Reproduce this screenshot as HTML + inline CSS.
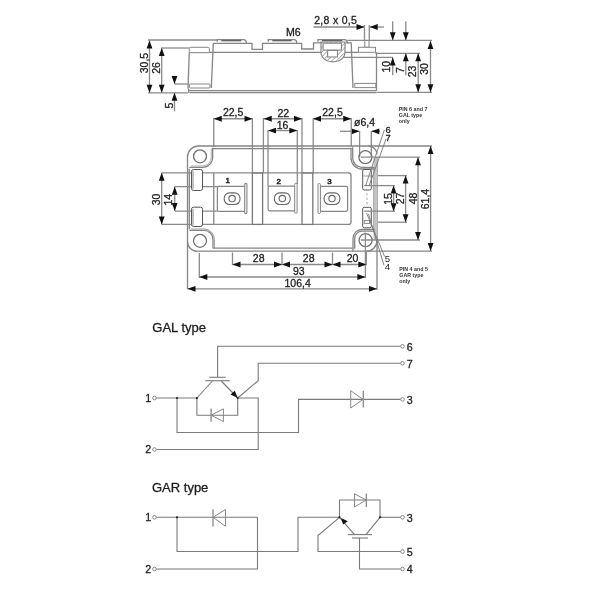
<!DOCTYPE html>
<html><head><meta charset="utf-8"><style>
html,body{margin:0;padding:0;background:#fff;}
body{width:600px;height:600px;overflow:hidden;}
svg{display:block;font-family:"Liberation Sans", sans-serif;filter:grayscale(1) blur(0.35px);}
text{stroke:#1e1e1e;stroke-width:0.3px;}
text.b{stroke-width:0.55px;}
</style></head><body>
<svg width="600" height="600" viewBox="0 0 600 600">
<rect width="600" height="600" fill="#fff"/>
<text x="293.3" y="35.8" font-size="10.6" text-anchor="middle" font-weight="normal" fill="#1e1e1e">M6</text>
<text x="314.2" y="24" font-size="10.5" text-anchor="start" font-weight="normal" fill="#1e1e1e" letter-spacing="0.3">2,8 x 0,5</text>
<line x1="313.5" y1="27" x2="364.5" y2="27" stroke="#8a8a8a" stroke-width="1.3" />
<polygon points="364.50,27.00 356.50,24.10 356.50,29.90" fill="#111"/>
<line x1="369.7" y1="27" x2="384" y2="27" stroke="#8a8a8a" stroke-width="1.3" />
<polygon points="369.70,27.00 377.70,24.10 377.70,29.90" fill="#111"/>
<line x1="364.5" y1="25" x2="364.5" y2="40.5" stroke="#8a8a8a" stroke-width="1.3" />
<line x1="369.3" y1="25" x2="369.3" y2="40.5" stroke="#8a8a8a" stroke-width="1.3" />
<line x1="148" y1="40" x2="217.5" y2="40" stroke="#8a8a8a" stroke-width="1.3" />
<path d="M217.3,41.8 L217.3,39.6 L243.3,39.6 Q246.3,39.6 246.3,42.5 L246.3,43.3" stroke="#858585" stroke-width="1.3" fill="none" />
<line x1="221.3" y1="40.7" x2="241.3" y2="40.7" stroke="#555" stroke-width="1.2" />
<path d="M268.3,41.8 L268.3,39.6 L293.7,39.6 Q296.7,39.6 296.7,42.5 L296.7,43.3" stroke="#858585" stroke-width="1.3" fill="none" />
<line x1="272.3" y1="40.7" x2="291.7" y2="40.7" stroke="#555" stroke-width="1.2" />
<path d="M318.0,41.8 L318.0,39.6 L344.3,39.6 Q347.3,39.6 347.3,42.5 L347.3,43.3" stroke="#858585" stroke-width="1.3" fill="none" />
<line x1="322.0" y1="40.7" x2="342.3" y2="40.7" stroke="#555" stroke-width="1.2" />
<polyline points="213.3,43.3 252,43.3 252,49.3 262.5,49.3 262.5,43.3 301.7,43.3 301.7,49.0 313.5,49.0 313.5,42.8 321,42.8" stroke="#858585" stroke-width="1.3" fill="none"/>
<polyline points="345.6,42.8 351.2,42.8 353.0,88.0" stroke="#858585" stroke-width="1.3" fill="none"/>
<line x1="189.3" y1="52.4" x2="358.4" y2="52.4" stroke="#858585" stroke-width="1.3" />
<defs><pattern id="h" width="3.3" height="3.3" patternUnits="userSpaceOnUse" patternTransform="rotate(45)"><rect width="3.3" height="3.3" fill="#fff"/><line x1="0" y1="0" x2="0" y2="3.3" stroke="#777" stroke-width="1.1"/></pattern></defs>
<path d="M321,42 L345,42 L345,52 C345,58 340,61.8 333,61.8 C326,61.8 321,58 321,52 Z" stroke="#858585" stroke-width="1.2" fill="url(#h)" />
<rect x="323.1" y="43.2" width="18.3" height="6.9" rx="0" stroke="#858585" stroke-width="1.1" fill="#fff"/>
<rect x="327.6" y="50.4" width="9.9" height="6.6" rx="0" stroke="#858585" stroke-width="1.1" fill="#fff"/>
<line x1="347.3" y1="40.3" x2="432" y2="40.3" stroke="#8a8a8a" stroke-width="1.3" />
<rect x="364.8" y="40.5" width="4.2" height="6.8" rx="0" stroke="#858585" stroke-width="1" fill="#fff"/>
<rect x="358.4" y="47.3" width="17.1" height="5.0" rx="0" stroke="#858585" stroke-width="1" fill="#fff"/>
<line x1="375.5" y1="53.3" x2="420" y2="53.3" stroke="#8a8a8a" stroke-width="1.3" />
<line x1="343.8" y1="57.4" x2="393" y2="57.4" stroke="#8a8a8a" stroke-width="1.3" />
<line x1="376.5" y1="52.3" x2="376.5" y2="90.7" stroke="#858585" stroke-width="1.3" />
<rect x="354.8" y="83.4" width="21.0" height="4.2" rx="0" stroke="#858585" stroke-width="1" fill="none"/>
<line x1="189.3" y1="52.0" x2="188.0" y2="88.7" stroke="#858585" stroke-width="1.3" />
<line x1="213.3" y1="43.3" x2="211.3" y2="88.0" stroke="#858585" stroke-width="1.3" />
<rect x="189.3" y="47.3" width="20.0" height="5.4" rx="1" stroke="#858585" stroke-width="1" fill="#fff"/>
<rect x="189.3" y="84.0" width="20.7" height="4.0" rx="1" stroke="#858585" stroke-width="1" fill="#fff"/>
<line x1="188.0" y1="90.7" x2="376.5" y2="90.7" stroke="#858585" stroke-width="1.3" />
<line x1="189.5" y1="92.7" x2="376.5" y2="92.7" stroke="#858585" stroke-width="1.3" />
<line x1="188.7" y1="88.7" x2="188.7" y2="92.7" stroke="#858585" stroke-width="1.3" />
<line x1="161" y1="48" x2="189" y2="48" stroke="#8a8a8a" stroke-width="1.3" />
<line x1="174.5" y1="84" x2="188" y2="84" stroke="#8a8a8a" stroke-width="1.3" />
<line x1="148" y1="92.8" x2="188" y2="92.8" stroke="#8a8a8a" stroke-width="1.3" />
<line x1="376.5" y1="92.3" x2="432" y2="92.3" stroke="#8a8a8a" stroke-width="1.3" />
<line x1="149.5" y1="40.5" x2="149.5" y2="92.8" stroke="#8a8a8a" stroke-width="1.3" />
<polygon points="149.50,40.50 146.60,48.50 152.40,48.50" fill="#111"/>
<polygon points="149.50,92.80 146.60,84.80 152.40,84.80" fill="#111"/>
<line x1="161.7" y1="48" x2="161.7" y2="92.8" stroke="#8a8a8a" stroke-width="1.3" />
<polygon points="161.70,48.00 158.80,56.00 164.60,56.00" fill="#111"/>
<polygon points="161.70,92.80 158.80,84.80 164.60,84.80" fill="#111"/>
<line x1="174.5" y1="76" x2="174.5" y2="84" stroke="#8a8a8a" stroke-width="1.3" />
<polygon points="174.50,84.00 171.60,76.00 177.40,76.00" fill="#111"/>
<line x1="174.5" y1="92.8" x2="174.5" y2="111.3" stroke="#8a8a8a" stroke-width="1.3" />
<polygon points="174.50,92.80 171.60,100.80 177.40,100.80" fill="#111"/>
<text x="147.6" y="63" font-size="10.5" text-anchor="middle" font-weight="normal" fill="#1e1e1e" transform="rotate(-90 147.6 63)">30,5</text>
<text x="159.8" y="68" font-size="10.5" text-anchor="middle" font-weight="normal" fill="#1e1e1e" transform="rotate(-90 159.8 68)">26</text>
<text x="173" y="105.5" font-size="10.5" text-anchor="middle" font-weight="normal" fill="#1e1e1e" transform="rotate(-90 173 105.5)">5</text>
<line x1="392.7" y1="21.3" x2="392.7" y2="40" stroke="#8a8a8a" stroke-width="1.3" />
<polygon points="392.70,40.30 389.80,32.30 395.60,32.30" fill="#111"/>
<line x1="392.7" y1="57.4" x2="392.7" y2="75.3" stroke="#8a8a8a" stroke-width="1.3" />
<polygon points="392.70,57.40 389.80,65.40 395.60,65.40" fill="#111"/>
<line x1="405.8" y1="21.3" x2="405.8" y2="40" stroke="#8a8a8a" stroke-width="1.3" />
<polygon points="405.80,40.30 402.90,32.30 408.70,32.30" fill="#111"/>
<line x1="405.8" y1="53.3" x2="405.8" y2="75.3" stroke="#8a8a8a" stroke-width="1.3" />
<polygon points="405.80,53.30 402.90,61.30 408.70,61.30" fill="#111"/>
<line x1="418.2" y1="53.3" x2="418.2" y2="92.3" stroke="#8a8a8a" stroke-width="1.3" />
<polygon points="418.20,53.30 415.30,61.30 421.10,61.30" fill="#111"/>
<polygon points="418.20,92.30 415.30,84.30 421.10,84.30" fill="#111"/>
<line x1="430.5" y1="41.0" x2="430.5" y2="92.3" stroke="#8a8a8a" stroke-width="1.3" />
<polygon points="430.50,41.00 427.60,49.00 433.40,49.00" fill="#111"/>
<polygon points="430.50,92.30 427.60,84.30 433.40,84.30" fill="#111"/>
<text x="390.2" y="66.7" font-size="10.5" text-anchor="middle" font-weight="normal" fill="#1e1e1e" transform="rotate(-90 390.2 66.7)">10</text>
<text x="403.5" y="70" font-size="10.5" text-anchor="middle" font-weight="normal" fill="#1e1e1e" transform="rotate(-90 403.5 70)">7</text>
<text x="416" y="71.5" font-size="10.5" text-anchor="middle" font-weight="normal" fill="#1e1e1e" transform="rotate(-90 416 71.5)">23</text>
<text x="428.2" y="69" font-size="10.5" text-anchor="middle" font-weight="normal" fill="#1e1e1e" transform="rotate(-90 428.2 69)">30</text>
<line x1="213.75" y1="118.75" x2="252.5" y2="118.75" stroke="#8a8a8a" stroke-width="1.3" />
<polygon points="213.75,118.75 221.75,115.85 221.75,121.65" fill="#111"/>
<polygon points="252.50,118.75 244.50,115.85 244.50,121.65" fill="#111"/>
<text x="233.1" y="116" font-size="10.5" text-anchor="middle" font-weight="normal" fill="#1e1e1e">22,5</text>
<line x1="263.75" y1="118.75" x2="302.0" y2="118.75" stroke="#8a8a8a" stroke-width="1.3" />
<polygon points="263.75,118.75 271.75,115.85 271.75,121.65" fill="#111"/>
<polygon points="302.00,118.75 294.00,115.85 294.00,121.65" fill="#111"/>
<text x="283.3" y="116.8" font-size="10.5" text-anchor="middle" font-weight="normal" fill="#1e1e1e">22</text>
<line x1="268.0" y1="130.6" x2="297.3" y2="130.6" stroke="#8a8a8a" stroke-width="1.3" />
<polygon points="268.00,130.60 276.00,127.70 276.00,133.50" fill="#111"/>
<polygon points="297.30,130.60 289.30,127.70 289.30,133.50" fill="#111"/>
<text x="282.6" y="128.9" font-size="10.5" text-anchor="middle" font-weight="normal" fill="#1e1e1e">16</text>
<line x1="313.0" y1="118.75" x2="351.25" y2="118.75" stroke="#8a8a8a" stroke-width="1.3" />
<polygon points="313.00,118.75 321.00,115.85 321.00,121.65" fill="#111"/>
<polygon points="351.25,118.75 343.25,115.85 343.25,121.65" fill="#111"/>
<text x="332.5" y="116" font-size="10.5" text-anchor="middle" font-weight="normal" fill="#1e1e1e">22,5</text>
<text x="364.5" y="126.3" font-size="10.5" text-anchor="middle" font-weight="normal" fill="#1e1e1e">ø6,4</text>
<line x1="340" y1="131.3" x2="359.6" y2="131.3" stroke="#8a8a8a" stroke-width="1.3" />
<polygon points="359.60,131.30 351.60,128.40 351.60,134.20" fill="#111"/>
<line x1="371.3" y1="131.3" x2="380" y2="131.3" stroke="#8a8a8a" stroke-width="1.3" />
<polygon points="371.30,131.30 379.30,128.40 379.30,134.20" fill="#111"/>
<line x1="213.75" y1="118" x2="213.75" y2="147" stroke="#8a8a8a" stroke-width="1.3" />
<line x1="252.4" y1="118" x2="252.4" y2="173" stroke="#8a8a8a" stroke-width="1.3" />
<line x1="263.4" y1="118" x2="263.4" y2="173" stroke="#8a8a8a" stroke-width="1.3" />
<line x1="268.0" y1="130" x2="268.0" y2="186.4" stroke="#8a8a8a" stroke-width="1.3" />
<line x1="297.3" y1="130" x2="297.3" y2="184" stroke="#8a8a8a" stroke-width="1.3" />
<line x1="302.0" y1="118" x2="302.0" y2="173" stroke="#8a8a8a" stroke-width="1.3" />
<line x1="313.2" y1="118" x2="313.2" y2="173" stroke="#8a8a8a" stroke-width="1.3" />
<line x1="351.25" y1="118" x2="351.25" y2="147" stroke="#8a8a8a" stroke-width="1.3" />
<line x1="359.6" y1="131" x2="359.6" y2="157" stroke="#8a8a8a" stroke-width="1.3" />
<line x1="371.3" y1="131" x2="371.3" y2="157" stroke="#8a8a8a" stroke-width="1.3" />
<path d="M187.5,289 L187.5,157 A11,11 0 0 1 198.5,146 L432,146" stroke="#858585" stroke-width="1.3" fill="none" />
<line x1="197.5" y1="251.2" x2="432" y2="251.2" stroke="#858585" stroke-width="1.3" />
<path d="M187.5,241.5 A10,10 0 0 0 197.5,251.5" stroke="#858585" stroke-width="1.3" fill="none" />
<line x1="377.0" y1="157" x2="377.0" y2="290" stroke="#858585" stroke-width="1.3" />
<rect x="373.6" y="158" width="3.4" height="82" rx="0" stroke="none" stroke-width="0" fill="#c4c4c4"/>
<line x1="373.6" y1="168" x2="373.6" y2="229" stroke="#999" stroke-width="0.8" />
<path d="M368.5,146 A8.5,8.5 0 0 1 377,154.5" stroke="#858585" stroke-width="1.3" fill="none" />
<path d="M377,240.5 A10.5,10.5 0 0 1 366.5,251.2" stroke="#858585" stroke-width="1.3" fill="none" />
<line x1="212.7" y1="148.7" x2="352.7" y2="148.7" stroke="#858585" stroke-width="1.3" />
<line x1="212.7" y1="248.2" x2="352.7" y2="248.2" stroke="#858585" stroke-width="1.3" />
<line x1="189.3" y1="168.7" x2="189.3" y2="229.2" stroke="#858585" stroke-width="1.3" />
<path d="M189.3,167.4 L202.5,167.4 A10.2,10.2 0 0 0 212.7,157.2 L212.7,147.8" stroke="#858585" stroke-width="1.3" fill="none" />
<path d="M191,166.0 L202.5,166.0 A8.8,8.8 0 0 0 211.3,157.2 L211.3,148.5" stroke="#aaa" stroke-width="1.0" fill="none" />
<path d="M189.3,230.4 L204,230.4 A9,9 0 0 1 213,239.4 L213,248.2" stroke="#858585" stroke-width="1.3" fill="none" />
<path d="M191,229.0 L204,229.0 A10.4,10.4 0 0 1 214.4,239.4 L214.4,248.2" stroke="#999" stroke-width="1.0" fill="none" />
<path d="M352.7,147.3 L352.7,158 A9.3,9.3 0 0 0 362,167.3 L374.6,167.3" stroke="#858585" stroke-width="1.3" fill="none" />
<path d="M351,149.2 L351,158 A11,11 0 0 0 362,169 L374.6,169" stroke="#858585" stroke-width="1.3" fill="none" />
<path d="M374.6,229.5 L362,229.5 A9,9 0 0 0 353,238.5 L353,251.2" stroke="#858585" stroke-width="1.3" fill="none" />
<path d="M374.6,231.2 L362,231.2 A7.3,7.3 0 0 0 354.7,238.5 L354.7,248.8" stroke="#858585" stroke-width="1.3" fill="none" />
<circle cx="200.0" cy="156.3" r="6.5" stroke="#707070" stroke-width="1.3" fill="none"/>
<circle cx="365.4" cy="157.2" r="6.5" stroke="#707070" stroke-width="1.3" fill="none"/>
<circle cx="200.0" cy="240.8" r="6.5" stroke="#707070" stroke-width="1.3" fill="none"/>
<circle cx="365.6" cy="240.2" r="6.5" stroke="#707070" stroke-width="1.3" fill="none"/>
<line x1="161.7" y1="172.8" x2="349" y2="172.8" stroke="#8a8a8a" stroke-width="1.3" />
<line x1="161.7" y1="224.4" x2="349" y2="224.4" stroke="#8a8a8a" stroke-width="1.3" />
<path d="M348.5,172.8 Q351,172.8 351,175.3 L351,221.9 Q351,224.4 348.5,224.4" stroke="#858585" stroke-width="1.3" fill="none" />
<line x1="213.75" y1="173" x2="213.75" y2="224.3" stroke="#858585" stroke-width="1.3" />
<line x1="174.7" y1="186.7" x2="217.3" y2="186.7" stroke="#8a8a8a" stroke-width="1.3" />
<line x1="174.7" y1="211.1" x2="217.3" y2="211.1" stroke="#8a8a8a" stroke-width="1.3" />
<line x1="161.7" y1="172.8" x2="161.7" y2="224.4" stroke="#8a8a8a" stroke-width="1.3" />
<polygon points="161.70,172.80 158.80,180.80 164.60,180.80" fill="#111"/>
<polygon points="161.70,224.40 158.80,216.40 164.60,216.40" fill="#111"/>
<line x1="174.7" y1="186.7" x2="174.7" y2="211.1" stroke="#8a8a8a" stroke-width="1.3" />
<polygon points="174.70,186.70 171.80,194.70 177.60,194.70" fill="#111"/>
<polygon points="174.70,211.10 171.80,203.10 177.60,203.10" fill="#111"/>
<text x="160.2" y="199.4" font-size="10.5" text-anchor="middle" font-weight="normal" fill="#1e1e1e" transform="rotate(-90 160.2 199.4)">30</text>
<text x="172.2" y="199.7" font-size="10.5" text-anchor="middle" font-weight="normal" fill="#1e1e1e" transform="rotate(-90 172.2 199.7)">14</text>
<rect x="191.5" y="169.5" width="11" height="21" rx="2" stroke="#555" stroke-width="1" fill="#fff"/>
<rect x="191.5" y="207.2" width="11" height="19.3" rx="2" stroke="#555" stroke-width="1" fill="#fff"/>
<line x1="193" y1="171" x2="193" y2="189" stroke="#888" stroke-width="1" />
<line x1="193" y1="209" x2="193" y2="225" stroke="#888" stroke-width="1" />
<rect x="362.7" y="169.5" width="8.6" height="20.5" rx="1.5" stroke="#555" stroke-width="1" fill="#fff"/>
<rect x="362.7" y="207.3" width="8.6" height="20.5" rx="1.5" stroke="#555" stroke-width="1" fill="#fff"/>
<rect x="252.4" y="173.1" width="10.2" height="51.3" rx="0" stroke="#777" stroke-width="1.3" fill="#fff"/>
<rect x="302.0" y="173.1" width="10.8" height="51.3" rx="0" stroke="#777" stroke-width="1.3" fill="#fff"/>
<rect x="217.4" y="186.4" width="28.3" height="25.0" rx="1.5" stroke="#858585" stroke-width="1.2" fill="#fff"/>
<rect x="244.7" y="183.4" width="2.2" height="30.2" rx="1" stroke="#858585" stroke-width="1.1" fill="#fff"/>
<rect x="268.1" y="186.2" width="27.2" height="24.6" rx="1.5" stroke="#858585" stroke-width="1.2" fill="#fff"/>
<rect x="294.7" y="183.3" width="2.4" height="30" rx="1" stroke="#858585" stroke-width="1" fill="#fff"/>
<rect x="320.0" y="186.3" width="27.6" height="25.0" rx="1.5" stroke="#858585" stroke-width="1.2" fill="#fff"/>
<rect x="318.0" y="183.5" width="2.4" height="30" rx="1" stroke="#858585" stroke-width="1" fill="#fff"/>
<rect x="224.2" y="192.85" width="15.8" height="11.7" rx="5.3" stroke="#666" stroke-width="1.1" fill="none"/>
<circle cx="232.1" cy="198.6" r="3.2" stroke="#666" stroke-width="1.1" fill="none"/>
<rect x="274.40000000000003" y="192.85" width="15.8" height="11.7" rx="5.3" stroke="#666" stroke-width="1.1" fill="none"/>
<circle cx="282.3" cy="198.6" r="3.2" stroke="#666" stroke-width="1.1" fill="none"/>
<rect x="324.1" y="192.85" width="15.8" height="11.7" rx="5.3" stroke="#666" stroke-width="1.1" fill="none"/>
<circle cx="332.0" cy="198.6" r="3.2" stroke="#666" stroke-width="1.1" fill="none"/>
<text class="b" x="227.8" y="183.4" font-size="8.0" text-anchor="middle" font-weight="normal" fill="#333">1</text>
<text class="b" x="278.8" y="183.6" font-size="8.0" text-anchor="middle" font-weight="normal" fill="#333">2</text>
<text class="b" x="329.5" y="183.6" font-size="8.0" text-anchor="middle" font-weight="normal" fill="#333">3</text>
<line x1="360.8" y1="157.2" x2="420" y2="157.2" stroke="#8a8a8a" stroke-width="1.3" />
<line x1="378" y1="175.6" x2="407" y2="175.6" stroke="#8a8a8a" stroke-width="1.3" />
<line x1="364.3" y1="185.6" x2="395" y2="185.6" stroke="#8a8a8a" stroke-width="1.3" />
<line x1="364.3" y1="211.2" x2="395" y2="211.2" stroke="#8a8a8a" stroke-width="1.3" />
<line x1="363.5" y1="176" x2="371" y2="176" stroke="#999" stroke-width="1" />
<rect x="364.3" y="220.6" width="5.2" height="2.8" rx="0" stroke="#888" stroke-width="1" fill="none"/>
<line x1="367" y1="193" x2="367" y2="206.5" stroke="#aaa" stroke-width="1" stroke-dasharray="2.5 2"/>
<line x1="378" y1="222.2" x2="407" y2="222.2" stroke="#8a8a8a" stroke-width="1.3" />
<line x1="360.8" y1="240.0" x2="420" y2="240.0" stroke="#8a8a8a" stroke-width="1.3" />
<line x1="430.6" y1="146" x2="430.6" y2="251" stroke="#8a8a8a" stroke-width="1.3" />
<polygon points="430.60,146.00 427.70,154.00 433.50,154.00" fill="#111"/>
<polygon points="430.60,251.00 427.70,243.00 433.50,243.00" fill="#111"/>
<line x1="418.0" y1="157.2" x2="418.0" y2="240.0" stroke="#8a8a8a" stroke-width="1.3" />
<polygon points="418.00,157.20 415.10,165.20 420.90,165.20" fill="#111"/>
<polygon points="418.00,240.00 415.10,232.00 420.90,232.00" fill="#111"/>
<line x1="405.6" y1="175.6" x2="405.6" y2="222.2" stroke="#8a8a8a" stroke-width="1.3" />
<polygon points="405.60,175.60 402.70,183.60 408.50,183.60" fill="#111"/>
<polygon points="405.60,222.20 402.70,214.20 408.50,214.20" fill="#111"/>
<line x1="393.6" y1="185.6" x2="393.6" y2="211.2" stroke="#8a8a8a" stroke-width="1.3" />
<polygon points="393.60,185.60 390.70,193.60 396.50,193.60" fill="#111"/>
<polygon points="393.60,211.20 390.70,203.20 396.50,203.20" fill="#111"/>
<text x="429.3" y="199" font-size="10.5" text-anchor="middle" font-weight="normal" fill="#1e1e1e" transform="rotate(-90 429.3 199)">61,4</text>
<text x="417.2" y="198.5" font-size="10.5" text-anchor="middle" font-weight="normal" fill="#1e1e1e" transform="rotate(-90 417.2 198.5)">48</text>
<text x="404.2" y="198.5" font-size="10.5" text-anchor="middle" font-weight="normal" fill="#1e1e1e" transform="rotate(-90 404.2 198.5)">27</text>
<text x="392.2" y="199" font-size="10.5" text-anchor="middle" font-weight="normal" fill="#1e1e1e" transform="rotate(-90 392.2 199)">15</text>
<line x1="384.3" y1="130" x2="365.5" y2="186" stroke="#777" stroke-width="0.9" />
<line x1="386.0" y1="139.0" x2="369.0" y2="186" stroke="#777" stroke-width="0.9" />
<line x1="366.5" y1="213" x2="384.6" y2="256.5" stroke="#777" stroke-width="0.9" />
<line x1="368.5" y1="214" x2="384.0" y2="265.3" stroke="#777" stroke-width="0.9" />
<text x="388.1" y="132.5" font-size="9.3" text-anchor="middle" font-weight="normal" fill="#1e1e1e">6</text>
<text x="388.2" y="140.8" font-size="9.3" text-anchor="middle" font-weight="normal" fill="#1e1e1e">7</text>
<text x="387.5" y="261.8" font-size="9.6" text-anchor="middle" font-weight="normal" fill="#1e1e1e" style="stroke:none">5</text>
<text x="387.4" y="270.3" font-size="9.6" text-anchor="middle" font-weight="normal" fill="#1e1e1e" style="stroke:none">4</text>
<text x="398.8" y="110.7" font-size="5.3" text-anchor="start" font-weight="bold" fill="#333" style="stroke:none">PIN 6 and 7</text>
<text x="398.8" y="117.0" font-size="5.3" text-anchor="start" font-weight="bold" fill="#333" style="stroke:none">GAL type</text>
<text x="398.8" y="123.2" font-size="5.3" text-anchor="start" font-weight="bold" fill="#333" style="stroke:none">only</text>
<text x="399.3" y="271.0" font-size="5.3" text-anchor="start" font-weight="bold" fill="#333" style="stroke:none">PIN 4 and 5</text>
<text x="399.3" y="277.2" font-size="5.3" text-anchor="start" font-weight="bold" fill="#333" style="stroke:none">GAR type</text>
<text x="399.3" y="283.4" font-size="5.3" text-anchor="start" font-weight="bold" fill="#333" style="stroke:none">only</text>
<line x1="232.5" y1="252.5" x2="232.5" y2="265" stroke="#8a8a8a" stroke-width="1.3" />
<line x1="282.0" y1="252.5" x2="282.0" y2="265" stroke="#8a8a8a" stroke-width="1.3" />
<line x1="332.5" y1="252.5" x2="332.5" y2="265" stroke="#8a8a8a" stroke-width="1.3" />
<line x1="366.3" y1="251.5" x2="366.3" y2="265" stroke="#8a8a8a" stroke-width="1.3" />
<line x1="199.3" y1="253" x2="199.3" y2="278" stroke="#8a8a8a" stroke-width="1.3" />
<line x1="365.4" y1="232.5" x2="365.4" y2="278" stroke="#8a8a8a" stroke-width="1.3" />
<line x1="232.5" y1="264.5" x2="282.0" y2="264.5" stroke="#8a8a8a" stroke-width="1.3" />
<polygon points="232.50,264.50 240.50,261.60 240.50,267.40" fill="#111"/>
<polygon points="282.00,264.50 274.00,261.60 274.00,267.40" fill="#111"/>
<text x="258.7" y="262.3" font-size="10.5" text-anchor="middle" font-weight="normal" fill="#1e1e1e">28</text>
<line x1="282.0" y1="264.5" x2="332.5" y2="264.5" stroke="#8a8a8a" stroke-width="1.3" />
<polygon points="282.00,264.50 290.00,261.60 290.00,267.40" fill="#111"/>
<polygon points="332.50,264.50 324.50,261.60 324.50,267.40" fill="#111"/>
<text x="308.7" y="262.3" font-size="10.5" text-anchor="middle" font-weight="normal" fill="#1e1e1e">28</text>
<line x1="332.5" y1="264.5" x2="366.3" y2="264.5" stroke="#8a8a8a" stroke-width="1.3" />
<polygon points="332.50,264.50 340.50,261.60 340.50,267.40" fill="#111"/>
<polygon points="366.30,264.50 358.30,261.60 358.30,267.40" fill="#111"/>
<text x="352.5" y="262.3" font-size="10.5" text-anchor="middle" font-weight="normal" fill="#1e1e1e">20</text>
<line x1="199.3" y1="277.0" x2="365.4" y2="277.0" stroke="#8a8a8a" stroke-width="1.3" />
<polygon points="199.30,277.00 207.30,274.10 207.30,279.90" fill="#111"/>
<polygon points="365.40,277.00 357.40,274.10 357.40,279.90" fill="#111"/>
<text x="298.8" y="274.8" font-size="10.5" text-anchor="middle" font-weight="normal" fill="#1e1e1e">93</text>
<line x1="187.5" y1="288.8" x2="377.0" y2="288.8" stroke="#8a8a8a" stroke-width="1.3" />
<polygon points="187.50,288.80 195.50,285.90 195.50,291.70" fill="#111"/>
<polygon points="377.00,288.80 369.00,285.90 369.00,291.70" fill="#111"/>
<text x="297.6" y="286.5" font-size="10.5" text-anchor="middle" font-weight="normal" fill="#1e1e1e">106,4</text>
<text x="152.3" y="331.6" font-size="13" text-anchor="start" font-weight="normal" fill="#1e1e1e">GAL type</text>
<polyline points="217.6,377.3 217.6,346.3 400.6,346.3" stroke="#7a7a7a" stroke-width="1.1" fill="none"/>
<line x1="209.3" y1="377.3" x2="225.7" y2="377.3" stroke="#7a7a7a" stroke-width="1.1" />
<line x1="205.3" y1="380.7" x2="229.7" y2="380.7" stroke="#7a7a7a" stroke-width="1.1" />
<line x1="212.4" y1="381" x2="196.9" y2="398" stroke="#7a7a7a" stroke-width="1.1" />
<line x1="221.3" y1="381" x2="237.7" y2="398" stroke="#7a7a7a" stroke-width="1.1" />
<polygon points="237.7,397.9 230.6,394.4 234.8,390.7" fill="#111"/>
<polyline points="237.7,398 258.2,380.7 258.2,363.3 400.6,363.3" stroke="#7a7a7a" stroke-width="1.1" fill="none"/>
<line x1="156.3" y1="398" x2="196.9" y2="398" stroke="#7a7a7a" stroke-width="1.1" />
<polyline points="196.9,398 196.9,415.2 237.7,415.2 237.7,398" stroke="#7a7a7a" stroke-width="1.1" fill="none"/>
<polygon points="211.1,415.2 223.4,408.8 223.4,421.6" fill="none" stroke="#888" stroke-width="1"/>
<line x1="211.1" y1="408.5" x2="211.1" y2="421.8" stroke="#888" stroke-width="1.3" />
<polyline points="237.7,398 258.2,398 258.2,449.5 156.3,449.5" stroke="#7a7a7a" stroke-width="1.1" fill="none"/>
<polyline points="177,398 177,432.5 298.5,432.5 298.5,399.4 400.6,399.4" stroke="#7a7a7a" stroke-width="1.1" fill="none"/>
<polygon points="350.7,390.7 350.7,408.0 363.0,399.4" fill="none" stroke="#888" stroke-width="1"/>
<line x1="363.3" y1="390.7" x2="363.3" y2="407.5" stroke="#888" stroke-width="1.3" />
<circle cx="177" cy="398" r="1.1" stroke="none" stroke-width="0" fill="#222"/>
<circle cx="196.9" cy="398" r="1.1" stroke="none" stroke-width="0" fill="#222"/>
<circle cx="237.7" cy="398" r="1.1" stroke="none" stroke-width="0" fill="#222"/>
<circle cx="154.5" cy="398" r="1.8" stroke="#7a7a7a" stroke-width="0.9" fill="#fff"/>
<text x="151.3" y="401.5" font-size="10.7" text-anchor="end" font-weight="normal" fill="#1e1e1e">1</text>
<circle cx="154.5" cy="449.5" r="1.8" stroke="#7a7a7a" stroke-width="0.9" fill="#fff"/>
<text x="151.3" y="453.0" font-size="10.7" text-anchor="end" font-weight="normal" fill="#1e1e1e">2</text>
<circle cx="402.5" cy="346.3" r="1.8" stroke="#7a7a7a" stroke-width="0.9" fill="#fff"/>
<text x="406.8" y="350.5" font-size="10.7" text-anchor="start" font-weight="normal" fill="#1e1e1e">6</text>
<circle cx="402.5" cy="363.3" r="1.8" stroke="#7a7a7a" stroke-width="0.9" fill="#fff"/>
<text x="406.8" y="367.5" font-size="10.7" text-anchor="start" font-weight="normal" fill="#1e1e1e">7</text>
<circle cx="402.5" cy="399.4" r="1.8" stroke="#7a7a7a" stroke-width="0.9" fill="#fff"/>
<text x="406.8" y="403.59999999999997" font-size="10.7" text-anchor="start" font-weight="normal" fill="#1e1e1e">3</text>
<text x="152.0" y="492.2" font-size="13" text-anchor="start" font-weight="normal" fill="#1e1e1e">GAR type</text>
<line x1="156.3" y1="517.3" x2="257.5" y2="517.3" stroke="#7a7a7a" stroke-width="1.1" />
<polygon points="213.0,517.3 225.5,509.5 225.5,526.3" fill="none" stroke="#888" stroke-width="1"/>
<line x1="213.0" y1="509.3" x2="213.0" y2="526.5" stroke="#888" stroke-width="1.3" />
<polyline points="257.5,517.3 257.5,569.0 156.3,569.0" stroke="#7a7a7a" stroke-width="1.1" fill="none"/>
<polyline points="177,517.3 177,551.5 298,551.5 298,517.3 339.5,517.3" stroke="#7a7a7a" stroke-width="1.1" fill="none"/>
<polyline points="339.5,517.3 339.5,500 380,500 380,517.3" stroke="#7a7a7a" stroke-width="1.1" fill="none"/>
<polygon points="354.5,493.8 354.5,507 366.3,500" fill="none" stroke="#888" stroke-width="1"/>
<line x1="366.3" y1="493.5" x2="366.3" y2="507" stroke="#888" stroke-width="1.3" />
<line x1="380" y1="517.3" x2="400.6" y2="517.3" stroke="#7a7a7a" stroke-width="1.1" />
<line x1="339.5" y1="517.3" x2="354.5" y2="534.6" stroke="#7a7a7a" stroke-width="1.1" />
<polygon points="341.0,518.0 347.8,521.2 343.0,524.6" fill="#111"/>
<line x1="380" y1="517.3" x2="366.0" y2="534.6" stroke="#7a7a7a" stroke-width="1.1" />
<line x1="347.8" y1="534.6" x2="372.0" y2="534.6" stroke="#7a7a7a" stroke-width="1.1" />
<line x1="352.0" y1="538.0" x2="368.0" y2="538.0" stroke="#7a7a7a" stroke-width="1.1" />
<polyline points="359.5,538.0 359.5,569.0 400.6,569.0" stroke="#7a7a7a" stroke-width="1.1" fill="none"/>
<polyline points="339.5,517.3 318,535.5 318,551.5 400.6,551.5" stroke="#7a7a7a" stroke-width="1.1" fill="none"/>
<circle cx="177" cy="517.3" r="1.1" stroke="none" stroke-width="0" fill="#222"/>
<circle cx="339.5" cy="517.3" r="1.1" stroke="none" stroke-width="0" fill="#222"/>
<circle cx="380" cy="517.3" r="1.1" stroke="none" stroke-width="0" fill="#222"/>
<circle cx="154.5" cy="517.3" r="1.8" stroke="#7a7a7a" stroke-width="0.9" fill="#fff"/>
<text x="151.3" y="520.8" font-size="10.7" text-anchor="end" font-weight="normal" fill="#1e1e1e">1</text>
<circle cx="154.5" cy="569.0" r="1.8" stroke="#7a7a7a" stroke-width="0.9" fill="#fff"/>
<text x="151.3" y="572.5" font-size="10.7" text-anchor="end" font-weight="normal" fill="#1e1e1e">2</text>
<circle cx="402.5" cy="517.3" r="1.8" stroke="#7a7a7a" stroke-width="0.9" fill="#fff"/>
<text x="406.8" y="521.5" font-size="10.7" text-anchor="start" font-weight="normal" fill="#1e1e1e">3</text>
<circle cx="402.5" cy="551.5" r="1.8" stroke="#7a7a7a" stroke-width="0.9" fill="#fff"/>
<text x="406.8" y="555.7" font-size="10.7" text-anchor="start" font-weight="normal" fill="#1e1e1e">5</text>
<circle cx="402.5" cy="569.0" r="1.8" stroke="#7a7a7a" stroke-width="0.9" fill="#fff"/>
<text x="406.8" y="573.2" font-size="10.7" text-anchor="start" font-weight="normal" fill="#1e1e1e">4</text>
</svg>
</body></html>
